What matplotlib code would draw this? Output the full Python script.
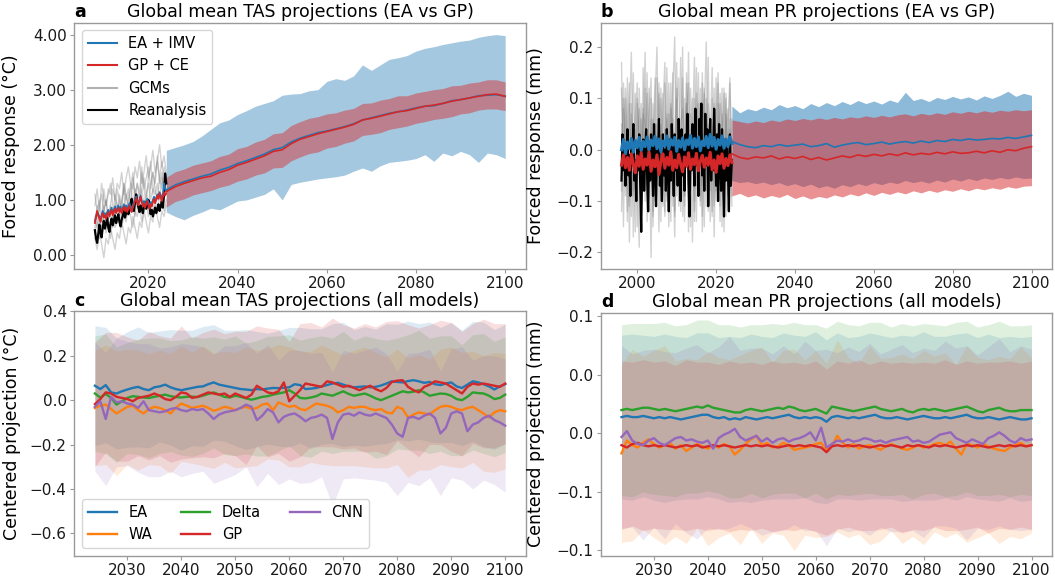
import numpy as np
import matplotlib
matplotlib.use("Agg")
import matplotlib.pyplot as plt
from matplotlib.ticker import FixedLocator, FixedFormatter, FormatStrFormatter

# ---------------- Panel a data (TAS, EA vs GP) ----------------
a_hist_start, a_hist_step = 2008.0, 0.25
a_red_hist = [0.58, 0.68, 0.80, 0.72, 0.66, 0.60, 0.70, 0.76, 0.68, 0.72, 0.66, 0.74,
              0.78, 0.70, 0.76, 0.82, 0.72, 0.78, 0.84, 0.76, 0.80, 0.86, 0.78, 0.84,
              0.76, 0.82, 0.88, 0.80, 0.86, 0.78, 0.84, 0.90, 0.82, 0.78, 0.86, 0.92,
              0.98, 1.04, 0.96, 0.90, 0.98, 1.06, 0.96, 0.88, 0.94, 0.86, 0.92, 0.98,
              0.90, 0.84, 0.92, 0.88, 0.96, 1.02, 0.94, 1.00, 1.08, 1.02, 1.12, 1.04,
              0.98, 1.06, 1.14, 1.08, 1.12]
a_blue_hist = [0.62, 0.70, 0.78, 0.74, 0.70, 0.64, 0.72, 0.80, 0.72, 0.76, 0.70, 0.78,
               0.82, 0.74, 0.80, 0.86, 0.76, 0.82, 0.88, 0.80, 0.84, 0.90, 0.82, 0.88,
               0.80, 0.86, 0.92, 0.84, 0.90, 0.82, 0.88, 0.94, 0.86, 0.82, 0.90, 0.96,
               1.02, 1.06, 0.98, 0.94, 1.00, 1.08, 0.98, 0.92, 0.98, 0.90, 0.96, 1.02,
               0.94, 0.88, 0.96, 0.92, 1.00, 1.06, 0.98, 1.04, 1.10, 1.06, 1.14, 1.08,
               1.04, 1.12, 1.30, 1.20, 1.16]
a_reanalysis = [0.45, 0.30, 0.22, 0.38, 0.55, 0.40, 0.32, 0.50, 0.62, 0.48, 0.56, 0.68,
                0.50, 0.42, 0.58, 0.66, 0.54, 0.62, 0.72, 0.58, 0.66, 0.74, 0.60, 0.52,
                0.64, 0.72, 0.80, 0.68, 0.76, 0.86, 0.74, 0.82, 0.92, 1.02, 0.88, 0.80,
                0.96, 1.10, 0.98, 0.86, 0.78, 0.90, 0.84, 0.76, 0.88, 0.96, 0.84, 0.92,
                1.00, 0.86, 0.74, 0.82, 0.70, 0.78, 0.86, 0.76, 0.84, 0.92, 0.80, 0.88,
                0.98, 0.86, 1.10, 1.48, 1.30]
a_gcm_start, a_gcm_step = 2008.0, 0.5
a_gcms = [
    [0.9, 1.2, 0.8, 1.3, 1.0, 0.9, 1.2, 1.1, 1.4, 1.0, 1.3, 1.2, 1.5, 1.1, 1.4, 1.6, 1.3,
     1.2, 1.6, 1.4, 1.7, 1.3, 1.5, 1.8, 1.4, 1.6, 1.9, 1.5, 1.7, 2.0, 1.6, 1.8, 1.5],
    [0.3, 0.1, 0.4, 0.2, -0.05, 0.3, 0.2, 0.5, 0.3, 0.1, 0.4, 0.3, 0.6, 0.4, 0.2, 0.5, 0.4,
     0.7, 0.5, 0.3, 0.6, 0.5, 0.8, 0.6, 0.4, 0.7, 0.6, 0.9, 0.7, 0.5, 0.8, 0.7, 0.9],
    [0.6, 0.8, 0.5, 0.7, 0.9, 0.6, 0.8, 0.7, 0.5, 0.9, 0.8, 1.0, 0.7, 0.9, 1.1, 0.8, 1.0,
     0.9, 0.7, 1.1, 1.0, 1.2, 0.9, 1.1, 1.3, 1.0, 1.2, 1.1, 1.3, 1.0, 1.4, 1.2, 1.3],
    [0.7, 0.5, 0.9, 1.1, 0.8, 1.0, 0.6, 0.9, 1.2, 1.0, 0.8, 1.1, 0.9, 1.3, 1.0, 1.2, 0.9,
     1.4, 1.1, 1.3, 1.0, 1.5, 1.2, 1.4, 1.6, 1.2, 1.5, 1.3, 1.7, 1.4, 1.2, 1.6, 1.4],
    [0.4, 0.6, 0.3, 0.5, 0.7, 0.4, 0.6, 0.3, 0.7, 0.5, 0.6, 0.8, 0.5, 0.7, 0.6, 0.9, 0.7,
     0.5, 0.8, 0.7, 0.9, 0.6, 0.8, 1.0, 0.7, 0.9, 0.8, 1.0, 0.8, 1.1, 0.9, 0.8, 1.0],
    [0.5, 0.9, 0.7, 0.4, 0.8, 1.0, 0.7, 0.9, 0.6, 1.1, 0.9, 0.7, 1.0, 1.2, 0.8, 1.0, 1.3,
     0.9, 1.2, 1.0, 0.8, 1.2, 1.4, 1.1, 0.9, 1.3, 1.5, 1.2, 1.0, 1.4, 1.7, 1.3, 1.2],
    [1.1, 0.8, 1.0, 0.6, 1.2, 0.9, 1.1, 1.3, 0.9, 0.7, 1.2, 1.0, 0.8, 1.3, 1.1, 0.9, 1.2,
     1.5, 1.0, 1.3, 1.1, 1.6, 1.2, 0.9, 1.4, 1.7, 1.1, 1.4, 1.8, 1.3, 1.5, 1.1, 1.3],
]
fut_start, fut_step = 2024.0, 2.0
a_red_fut = [1.15, 1.24, 1.30, 1.35, 1.40, 1.43, 1.50, 1.55, 1.63, 1.68,
             1.74, 1.80, 1.88, 1.91, 2.02, 2.10, 2.15, 2.20, 2.24, 2.28,
             2.32, 2.37, 2.45, 2.48, 2.52, 2.56, 2.60, 2.62, 2.66, 2.70,
             2.72, 2.75, 2.79, 2.82, 2.85, 2.88, 2.91, 2.92, 2.88]
a_blue_fut = [1.18, 1.27, 1.33, 1.38, 1.43, 1.47, 1.54, 1.59, 1.66, 1.71,
              1.77, 1.83, 1.91, 1.95, 2.05, 2.12, 2.17, 2.22, 2.25, 2.29,
              2.33, 2.38, 2.45, 2.49, 2.53, 2.57, 2.60, 2.63, 2.67, 2.70,
              2.71, 2.75, 2.80, 2.82, 2.85, 2.89, 2.90, 2.91, 2.88]
a_blue_up = [1.90, 1.95, 2.00, 2.06, 2.16, 2.28, 2.40, 2.45, 2.55, 2.62,
             2.70, 2.75, 2.80, 2.90, 2.92, 2.93, 2.98, 3.00, 3.15, 3.20,
             3.17, 3.25, 3.45, 3.35, 3.45, 3.55, 3.58, 3.62, 3.70, 3.75,
             3.78, 3.82, 3.85, 3.88, 3.90, 3.95, 3.98, 4.00, 3.98]
a_blue_lo = [0.78, 0.70, 0.64, 0.72, 0.78, 0.85, 0.82, 0.90, 0.98, 1.00,
             1.05, 1.10, 1.20, 1.00, 1.28, 1.32, 1.35, 1.38, 1.40, 1.42,
             1.45, 1.52, 1.58, 1.52, 1.62, 1.68, 1.70, 1.72, 1.75, 1.82,
             1.70, 1.85, 1.80, 1.88, 1.82, 1.68, 1.85, 1.82, 1.75]
a_red_up = [1.41, 1.51, 1.56, 1.63, 1.67, 1.71, 1.79, 1.83, 1.93, 1.97,
            2.05, 2.10, 2.20, 2.22, 2.35, 2.42, 2.48, 2.51, 2.56, 2.58,
            2.63, 2.66, 2.75, 2.76, 2.81, 2.84, 2.89, 2.89, 2.94, 2.97,
            3.00, 3.02, 3.07, 3.08, 3.12, 3.14, 3.18, 3.18, 3.14]
a_red_lo = [0.87, 0.97, 1.02, 1.09, 1.13, 1.17, 1.23, 1.27, 1.34, 1.38,
            1.45, 1.49, 1.58, 1.59, 1.71, 1.78, 1.84, 1.87, 1.94, 1.97,
            2.03, 2.07, 2.17, 2.19, 2.22, 2.28, 2.31, 2.34, 2.39, 2.42,
            2.46, 2.48, 2.51, 2.56, 2.58, 2.63, 2.65, 2.65, 2.62]

# ---------------- Panel b data (PR, EA vs GP) ----------------
b_hist_start = 1996.0
b_reanalysis = [-0.06, 0.03, -0.04, 0.01, -0.07, -0.02, 0.04, -0.05, -0.01, -0.09, 0.02, -0.03,
                0.05, -0.06, -0.02, -0.10, 0.01, -0.04, 0.03, -0.07, -0.16, -0.03, 0.02, -0.08,
                -0.01, 0.04, -0.05, -0.12, 0.00, -0.06, 0.03, -0.02, -0.09, 0.05, -0.04, -0.11,
                0.01, -0.03, 0.06, -0.07, -0.02, -0.10, 0.03, -0.05, 0.00, -0.08, 0.04, -0.03,
                -0.12, 0.02, -0.06, 0.05, -0.01, -0.09, 0.03, -0.04, 0.01, -0.07, 0.06, -0.02,
                -0.10, 0.04, -0.05, 0.00, -0.08, 0.03, -0.03, 0.07, -0.06, -0.13, 0.02, -0.04,
                0.05, -0.01, -0.07, 0.08, -0.03, 0.02, -0.09, 0.06, -0.02, 0.09, -0.05, 0.01,
                -0.08, 0.07, -0.03, 0.04, -0.11, 0.00, 0.06, -0.06, 0.02, -0.04, 0.08, -0.01,
                -0.07, 0.03, -0.10, 0.05, -0.02, -0.08, 0.04, -0.05, -0.13, 0.02, -0.06, 0.01,
                -0.04, -0.12, 0.03, -0.07, -0.02]
b_gcms = [
    [0.17, -0.05, 0.10, -0.12, 0.06, 0.19, -0.08, 0.04, -0.15, 0.12,
     -0.02, 0.08, -0.10, 0.15, -0.06, 0.03, -0.13, 0.10, 0.20, -0.07,
     0.05, -0.11, 0.13, -0.03, 0.07, -0.14, 0.11, 0.22, -0.09, 0.04,
     -0.12, 0.14, -0.04, 0.09, -0.16, 0.12, 0.02, -0.10, 0.16, -0.05,
     0.08, -0.13, 0.11, -0.02, 0.18, -0.08, 0.05, -0.11, 0.14, -0.04,
     0.09, -0.15, 0.12, 0.03, -0.09, 0.13, -0.03],
    [-0.12, 0.08, -0.03, 0.14, -0.18, 0.02, -0.09, 0.11, -0.05, -0.19,
     0.06, -0.02, 0.12, -0.14, 0.03, -0.21, 0.09, -0.06, 0.05, -0.16,
     0.10, -0.04, -0.13, 0.07, -0.08, 0.13, -0.02, -0.17, 0.06, -0.10,
     0.18, -0.04, -0.14, 0.09, -0.07, 0.04, -0.18, 0.08, -0.03, 0.15,
     -0.11, 0.02, -0.15, 0.10, -0.06, 0.05, -0.13, 0.12, -0.08, 0.03,
     -0.14, 0.07, -0.05, 0.11, -0.12, 0.04, -0.09],
    [0.05, -0.15, 0.12, 0.00, -0.08, 0.09, -0.17, 0.06, 0.13, -0.04,
     -0.11, 0.16, -0.01, -0.09, 0.07, 0.14, -0.12, 0.01, -0.06, 0.11,
     -0.14, 0.08, 0.17, -0.09, 0.02, -0.05, 0.15, -0.13, 0.10, 0.01,
     -0.08, 0.20, -0.11, 0.06, 0.13, -0.15, 0.04, 0.18, -0.07, 0.00,
     0.12, -0.16, 0.07, 0.21, -0.10, -0.03, 0.10, -0.17, 0.06, 0.15,
     -0.08, 0.01, 0.11, -0.13, 0.05, 0.14, -0.06],
    [-0.02, 0.10, -0.09, 0.04, 0.13, -0.13, 0.03, -0.06, 0.09, 0.01,
     -0.12, 0.07, 0.05, -0.07, 0.12, -0.03, 0.06, -0.10, 0.14, 0.00,
     -0.08, 0.11, -0.01, 0.06, -0.15, 0.09, 0.03, -0.06, 0.12, -0.11,
     0.05, 0.08, -0.09, 0.13, 0.01, -0.07, 0.10, -0.12, 0.06, 0.03,
     -0.10, 0.13, 0.00, -0.08, 0.09, 0.04, -0.12, 0.08, 0.01, -0.09,
     0.11, 0.05, -0.11, 0.07, 0.00, -0.07, 0.06],
    [0.12, -0.07, 0.03, -0.14, 0.09, -0.02, 0.15, -0.10, 0.01, 0.08,
     -0.13, 0.04, 0.19, -0.06, -0.01, 0.10, -0.15, 0.05, -0.04, 0.13,
     -0.09, 0.02, -0.12, 0.16, -0.05, 0.08, -0.11, 0.03, 0.17, -0.07,
     0.01, -0.13, 0.10, -0.02, 0.19, -0.08, 0.05, -0.14, 0.11, -0.01,
     -0.09, 0.15, -0.04, 0.07, -0.12, 0.02, 0.16, -0.06, -0.10, 0.09,
     -0.03, 0.12, -0.16, 0.04, 0.08, -0.05, 0.02],
    [-0.08, 0.13, 0.01, -0.06, -0.11, 0.07, 0.00, -0.16, 0.10, -0.03,
     0.09, -0.08, 0.02, 0.11, -0.12, 0.06, -0.02, 0.14, -0.11, 0.03,
     0.12, -0.07, 0.04, -0.10, 0.13, -0.01, 0.06, -0.12, 0.08, 0.14,
     -0.05, 0.02, -0.09, 0.15, -0.13, 0.07, -0.04, 0.10, -0.14, 0.09,
     0.03, -0.07, 0.12, -0.11, 0.05, -0.14, 0.02, 0.09, -0.07, 0.13,
     -0.11, 0.04, -0.08, 0.10, -0.02, 0.06, -0.11],
]
b_blue_hist = [0.000, 0.020, -0.008, 0.015, 0.002, 0.022, -0.005, 0.018, 0.004, 0.024,
               -0.002, 0.016, 0.006, 0.025, 0.000, 0.019, 0.008, 0.026, 0.002, 0.021,
               -0.004, 0.017, 0.007, 0.027, 0.001, 0.020, 0.009, 0.024, -0.003, 0.018,
               0.005, 0.023, 0.000, 0.019, 0.010, 0.028, 0.003, 0.022, 0.006, 0.025,
               -0.002, 0.017, 0.008, 0.026, 0.004, 0.030, 0.007, 0.024, 0.001, 0.020,
               0.009, 0.027, 0.003, 0.021, 0.006, 0.025, 0.012]
b_red_hist = [-0.030, -0.010, -0.035, -0.015, -0.040, -0.008, -0.028, -0.045, -0.012, -0.032,
              -0.006, -0.038, -0.018, -0.030, -0.005, -0.042, -0.020, -0.033, -0.010, -0.048,
              -0.022, -0.008, -0.036, -0.015, -0.030, -0.004, -0.040, -0.020, -0.035, -0.009,
              -0.028, -0.043, -0.014, -0.032, -0.006, -0.038, -0.018, -0.029, -0.007, -0.041,
              -0.022, -0.011, -0.034, -0.016, -0.030, -0.005, -0.039, -0.020, -0.044, -0.012,
              -0.027, -0.008, -0.036, -0.017, -0.031, -0.010, -0.025]
b_blue_fut = [0.016, 0.010, 0.006, 0.004, 0.008, 0.006, 0.010, 0.007, 0.009, 0.011,
              0.006, 0.008, 0.012, 0.005, 0.009, 0.012, 0.014, 0.010, 0.012, 0.015,
              0.011, 0.014, 0.016, 0.013, 0.017, 0.014, 0.018, 0.016, 0.020, 0.018,
              0.021, 0.019, 0.020, 0.022, 0.021, 0.024, 0.022, 0.025, 0.028]
b_red_fut = [-0.008, -0.015, -0.018, -0.014, -0.016, -0.012, -0.018, -0.014, -0.017, -0.013,
             -0.019, -0.015, -0.020, -0.016, -0.012, -0.015, -0.010, -0.013, -0.009, -0.012,
             -0.008, -0.011, -0.006, -0.010, -0.007, -0.009, -0.005, -0.008, -0.004, -0.007,
             -0.006, -0.003, -0.006, -0.002, -0.005, 0.000, -0.002, 0.003, 0.006]
b_blue_up = [0.085, 0.072, 0.080, 0.076, 0.083, 0.078, 0.088, 0.082, 0.086, 0.080,
             0.090, 0.084, 0.092, 0.086, 0.094, 0.088, 0.096, 0.090, 0.095, 0.089,
             0.097, 0.092, 0.112, 0.096, 0.100, 0.094, 0.102, 0.098, 0.104, 0.099,
             0.103, 0.097, 0.105, 0.100, 0.106, 0.114, 0.104, 0.110, 0.106]
b_blue_lo = [-0.060, -0.064, -0.062, -0.066, -0.063, -0.068, -0.064, -0.070, -0.066, -0.072,
             -0.067, -0.074, -0.070, -0.075, -0.068, -0.072, -0.066, -0.070, -0.064, -0.068,
             -0.063, -0.066, -0.060, -0.064, -0.061, -0.065, -0.059, -0.063, -0.057, -0.061,
             -0.056, -0.060, -0.055, -0.058, -0.054, -0.057, -0.053, -0.056, -0.055]
b_red_up = [0.058, 0.055, 0.052, 0.056, 0.053, 0.058, 0.055, 0.060, 0.057, 0.061,
            0.058, 0.062, 0.059, 0.063, 0.060, 0.064, 0.062, 0.066, 0.063, 0.067,
            0.064, 0.068, 0.070, 0.066, 0.071, 0.068, 0.072, 0.069, 0.074, 0.071,
            0.075, 0.072, 0.076, 0.073, 0.077, 0.075, 0.078, 0.076, 0.078]
b_red_lo = [-0.090, -0.085, -0.092, -0.088, -0.094, -0.089, -0.093, -0.087, -0.095, -0.090,
            -0.096, -0.091, -0.094, -0.088, -0.092, -0.086, -0.090, -0.084, -0.089, -0.083,
            -0.087, -0.082, -0.086, -0.080, -0.084, -0.079, -0.083, -0.078, -0.081, -0.076,
            -0.080, -0.075, -0.078, -0.074, -0.077, -0.072, -0.075, -0.071, -0.070]

# ---------------- Panel c data (TAS, all models, centered) ----------------
models = ["EA", "WA", "Delta", "GP", "CNN"]
model_colors = ["#1f77b4", "#ff7f0e", "#2ca02c", "#d62728", "#9467bd"]
c_lines = {
    "EA": [0.065, 0.050, 0.068, 0.035, 0.030, 0.040, 0.048, 0.055, 0.060, 0.050,
           0.045, 0.058, 0.062, 0.070, 0.058, 0.050, 0.045, 0.050, 0.055, 0.060,
           0.062, 0.072, 0.080, 0.070, 0.065, 0.060, 0.055, 0.050, 0.048, 0.045,
           0.050, 0.048, 0.052, 0.055, 0.054, 0.056, 0.058, 0.072, 0.068, 0.050,
           0.052, 0.055, 0.062, 0.068, 0.075, 0.078, 0.070, 0.062, 0.058, 0.060,
           0.062, 0.058, 0.060, 0.066, 0.075, 0.085, 0.082, 0.080, 0.086, 0.090,
           0.085, 0.078, 0.082, 0.072, 0.068, 0.075, 0.080, 0.062, 0.055, 0.070,
           0.085, 0.080, 0.072, 0.062, 0.048, 0.062, 0.072],
    "WA": [-0.035, -0.025, -0.020, -0.040, -0.060, -0.045, -0.030, -0.025, -0.045, -0.060,
           -0.040, -0.030, -0.035, -0.045, -0.060, -0.035, -0.015, -0.025, -0.035, -0.030,
           -0.025, -0.035, -0.048, -0.040, -0.030, -0.035, -0.045, -0.035, -0.030, -0.040,
           -0.035, -0.020, -0.015, -0.045, -0.010, -0.020, -0.030, -0.025, -0.040, -0.045,
           -0.030, -0.015, -0.020, -0.025, -0.035, -0.055, -0.045, -0.030, -0.035, -0.030,
           -0.030, -0.040, -0.045, -0.040, -0.055, -0.060, -0.030, -0.040, -0.078, -0.065,
           -0.055, -0.060, -0.065, -0.045, -0.030, -0.025, -0.030, -0.040, -0.045, -0.035,
           -0.030, -0.045, -0.060, -0.078, -0.055, -0.045, -0.050],
    "Delta": [0.030, 0.012, 0.028, 0.010, -0.020, -0.005, 0.010, 0.018, 0.015, 0.012,
              0.010, 0.015, 0.020, 0.025, 0.018, 0.014, 0.012, 0.015, 0.016, 0.014,
              0.020, 0.028, 0.035, 0.025, 0.015, 0.012, 0.020, 0.015, 0.008, 0.002,
              0.008, 0.015, 0.018, 0.025, 0.030, 0.035, 0.045, 0.030, 0.010, 0.008,
              0.012, 0.018, 0.030, 0.025, 0.020, 0.030, 0.040, 0.028, 0.020, 0.025,
              0.030, 0.020, 0.008, 0.000, 0.010, 0.020, 0.030, 0.040, 0.035, 0.038,
              0.045, 0.035, 0.020, 0.025, 0.030, 0.028, 0.020, 0.005, 0.000, 0.015,
              0.035, 0.032, 0.030, 0.020, 0.005, 0.010, 0.025],
    "GP": [-0.018, 0.005, 0.035, 0.030, 0.015, 0.010, 0.005, -0.005, 0.010, 0.015,
           0.020, 0.030, 0.020, 0.005, 0.000, 0.015, 0.035, 0.030, 0.010, 0.015,
           0.025, 0.035, 0.030, 0.025, 0.030, 0.015, 0.030, 0.020, 0.010, 0.025,
           0.065, 0.050, 0.035, 0.030, 0.040, 0.080, -0.005, 0.020, 0.045, 0.075,
           0.070, 0.065, 0.060, 0.085, 0.080, 0.070, 0.060, 0.065, 0.055, 0.045,
           0.055, 0.065, 0.050, 0.040, 0.055, 0.082, 0.088, 0.090, 0.060, 0.045,
           0.035, 0.060, 0.070, 0.085, 0.080, 0.075, 0.060, 0.045, 0.030, 0.060,
           0.075, 0.070, 0.075, 0.070, 0.065, 0.060, 0.075],
    "CNN": [-0.030, -0.005, -0.085, 0.015, -0.010, -0.005, -0.015, -0.020, -0.035, -0.005,
            -0.045, -0.050, -0.055, -0.050, -0.040, -0.035, -0.045, -0.050, -0.040, -0.045,
            -0.040, -0.060, -0.085, -0.065, -0.055, -0.050, -0.045, -0.035, -0.020, -0.030,
            -0.090, -0.070, -0.040, -0.055, -0.100, -0.075, -0.065, -0.060, -0.075, -0.095,
            -0.080, -0.075, -0.065, -0.080, -0.175, -0.100, -0.065, -0.060, -0.070, -0.055,
            -0.065, -0.070, -0.060, -0.070, -0.080, -0.110, -0.150, -0.165, -0.080, -0.075,
            -0.085, -0.070, -0.060, -0.080, -0.150, -0.125, -0.060, -0.050, -0.060, -0.140,
            -0.110, -0.100, -0.080, -0.070, -0.090, -0.100, -0.115],
}
# half-width of each model's uncertainty band, every 2 years 2024..2100
c_spread = {
    "EA": [0.27, 0.26, 0.25, 0.26, 0.27, 0.26, 0.25, 0.26, 0.27, 0.26,
           0.27, 0.26, 0.25, 0.26, 0.27, 0.26, 0.25, 0.26, 0.27, 0.26,
           0.27, 0.26, 0.27, 0.28, 0.26, 0.27, 0.26, 0.27, 0.26, 0.27,
           0.26, 0.27, 0.26, 0.27, 0.26, 0.27, 0.28, 0.27, 0.27],
    "WA": [0.26, 0.27, 0.28, 0.26, 0.27, 0.25, 0.26, 0.27, 0.26, 0.25,
           0.27, 0.26, 0.25, 0.26, 0.27, 0.26, 0.25, 0.26, 0.27, 0.26,
           0.25, 0.27, 0.26, 0.25, 0.26, 0.27, 0.26, 0.25, 0.26, 0.27,
           0.26, 0.25, 0.26, 0.27, 0.26, 0.25, 0.26, 0.27, 0.26],
    "Delta": [0.26, 0.27, 0.26, 0.25, 0.26, 0.27, 0.26, 0.25, 0.26, 0.27,
              0.26, 0.25, 0.26, 0.27, 0.25, 0.26, 0.27, 0.26, 0.25, 0.26,
              0.27, 0.26, 0.26, 0.27, 0.25, 0.26, 0.27, 0.26, 0.25, 0.26,
              0.27, 0.26, 0.26, 0.27, 0.25, 0.26, 0.27, 0.26, 0.26],
    "GP": [0.28, 0.27, 0.29, 0.28, 0.26, 0.29, 0.27, 0.28, 0.30, 0.27,
           0.28, 0.29, 0.27, 0.28, 0.30, 0.27, 0.29, 0.28, 0.27, 0.30,
           0.28, 0.27, 0.29, 0.28, 0.27, 0.29, 0.28, 0.30, 0.27, 0.28,
           0.29, 0.27, 0.28, 0.29, 0.28, 0.27, 0.29, 0.28, 0.27],
    "CNN": [0.29, 0.30, 0.29, 0.28, 0.29, 0.30, 0.29, 0.28, 0.30, 0.29,
            0.28, 0.29, 0.30, 0.29, 0.28, 0.30, 0.29, 0.28, 0.29, 0.30,
            0.29, 0.28, 0.30, 0.29, 0.28, 0.29, 0.30, 0.29, 0.28, 0.29,
            0.30, 0.29, 0.28, 0.29, 0.30, 0.29, 0.28, 0.29, 0.30],
}

# ---------------- Panel d data (PR, all models, centered) ----------------
d_lines = {
    "EA": [0.014, 0.015, 0.014, 0.014, 0.015, 0.014, 0.013, 0.014, 0.013, 0.014,
           0.013, 0.012, 0.013, 0.014, 0.015, 0.016, 0.016, 0.014, 0.013, 0.014,
           0.012, 0.013, 0.012, 0.014, 0.013, 0.012, 0.013, 0.014, 0.013, 0.014,
           0.015, 0.016, 0.014, 0.013, 0.014, 0.013, 0.014, 0.013, 0.010, 0.014,
           0.015, 0.014, 0.013, 0.014, 0.013, 0.014, 0.015, 0.016, 0.014, 0.013,
           0.013, 0.014, 0.013, 0.012, 0.013, 0.014, 0.015, 0.014, 0.013, 0.013,
           0.014, 0.013, 0.014, 0.015, 0.016, 0.014, 0.013, 0.013, 0.014, 0.013,
           0.012, 0.013, 0.014, 0.013, 0.012, 0.012, 0.013],
    "WA": [-0.017, -0.006, -0.010, -0.012, -0.008, -0.005, -0.009, -0.012, -0.010, -0.008,
           -0.013, -0.010, -0.015, -0.012, -0.009, -0.011, -0.013, -0.010, -0.012, -0.009,
           -0.011, -0.018, -0.014, -0.009, -0.005, -0.002, -0.010, -0.008, -0.012, -0.011,
           -0.008, -0.010, -0.014, -0.013, -0.012, -0.011, -0.009, -0.008, -0.014, -0.011,
           -0.002, -0.008, -0.012, -0.009, -0.013, -0.011, -0.010, -0.012, -0.014, -0.011,
           -0.009, -0.011, -0.013, -0.014, -0.012, -0.010, -0.012, -0.011, -0.009, -0.008,
           -0.010, -0.007, -0.013, -0.018, -0.009, -0.010, -0.012, -0.009, -0.011, -0.013,
           -0.014, -0.015, -0.012, -0.010, -0.008, -0.011, -0.010],
    "Delta": [0.020, 0.021, 0.020, 0.021, 0.022, 0.022, 0.021, 0.020, 0.021, 0.020,
              0.019, 0.020, 0.021, 0.022, 0.023, 0.022, 0.024, 0.022, 0.021, 0.020,
              0.019, 0.018, 0.018, 0.020, 0.021, 0.020, 0.019, 0.020, 0.021, 0.022,
              0.021, 0.023, 0.022, 0.020, 0.019, 0.020, 0.021, 0.019, 0.017, 0.023,
              0.022, 0.021, 0.020, 0.019, 0.020, 0.021, 0.022, 0.023, 0.021, 0.020,
              0.019, 0.020, 0.021, 0.019, 0.018, 0.020, 0.021, 0.020, 0.021, 0.020,
              0.019, 0.020, 0.021, 0.022, 0.023, 0.021, 0.019, 0.018, 0.020, 0.021,
              0.022, 0.020, 0.019, 0.019, 0.020, 0.020, 0.020],
    "GP": [-0.010, -0.012, -0.009, -0.008, -0.010, -0.011, -0.010, -0.011, -0.010, -0.011,
           -0.012, -0.011, -0.010, -0.011, -0.010, -0.012, -0.011, -0.010, -0.011, -0.010,
           -0.011, -0.012, -0.011, -0.010, -0.011, -0.010, -0.011, -0.010, -0.011, -0.012,
           -0.011, -0.010, -0.011, -0.010, -0.011, -0.010, -0.011, -0.012, -0.016, -0.011,
           -0.010, -0.011, -0.010, -0.011, -0.010, -0.011, -0.012, -0.011, -0.010, -0.011,
           -0.010, -0.011, -0.012, -0.010, -0.011, -0.010, -0.011, -0.012, -0.010, -0.011,
           -0.010, -0.011, -0.012, -0.011, -0.010, -0.011, -0.010, -0.011, -0.012, -0.011,
           -0.010, -0.011, -0.010, -0.011, -0.010, -0.011, -0.010],
    "CNN": [-0.003, 0.002, -0.006, -0.009, -0.010, -0.006, -0.004, -0.008, -0.010, -0.007,
            -0.004, -0.003, -0.006, -0.005, -0.007, -0.008, -0.006, -0.013, -0.004, -0.001,
            0.001, 0.004, -0.003, -0.006, -0.004, -0.002, -0.007, -0.004, -0.008, -0.005,
            -0.004, -0.007, -0.005, -0.004, -0.002, 0.001, -0.006, 0.005, -0.012, -0.009,
            -0.006, -0.007, -0.005, -0.007, -0.006, -0.004, -0.005, -0.007, -0.006, -0.008,
            -0.006, -0.005, -0.004, -0.003, -0.007, -0.006, -0.008, -0.007, -0.004, -0.001,
            0.000, 0.001, -0.004, -0.006, -0.008, -0.005, -0.007, -0.009, -0.004, -0.002,
            0.001, -0.002, -0.006, -0.008, -0.004, -0.006, -0.005],
}
d_spread = {
    "EA": [0.070, 0.071, 0.069, 0.070, 0.072, 0.070, 0.069, 0.071, 0.070, 0.069,
           0.071, 0.070, 0.072, 0.070, 0.069, 0.071, 0.070, 0.069, 0.073, 0.070,
           0.071, 0.069, 0.070, 0.071, 0.070, 0.069, 0.071, 0.070, 0.072, 0.070,
           0.069, 0.071, 0.070, 0.069, 0.071, 0.070, 0.069, 0.070, 0.070],
    "WA": [0.076, 0.082, 0.074, 0.080, 0.085, 0.075, 0.079, 0.072, 0.083, 0.077,
           0.074, 0.081, 0.076, 0.084, 0.073, 0.079, 0.086, 0.075, 0.080, 0.074,
           0.082, 0.077, 0.073, 0.085, 0.078, 0.074, 0.081, 0.076, 0.083, 0.075,
           0.079, 0.072, 0.084, 0.077, 0.074, 0.080, 0.076, 0.082, 0.075],
    "Delta": [0.073, 0.074, 0.072, 0.073, 0.074, 0.073, 0.072, 0.074, 0.073, 0.072,
              0.074, 0.073, 0.072, 0.074, 0.073, 0.072, 0.073, 0.074, 0.072, 0.073,
              0.074, 0.073, 0.072, 0.073, 0.074, 0.072, 0.073, 0.074, 0.073, 0.072,
              0.073, 0.074, 0.073, 0.072, 0.073, 0.074, 0.073, 0.072, 0.073],
    "GP": [0.072, 0.070, 0.073, 0.071, 0.072, 0.070, 0.073, 0.071, 0.072, 0.070,
           0.073, 0.071, 0.072, 0.070, 0.073, 0.071, 0.072, 0.070, 0.073, 0.071,
           0.072, 0.070, 0.073, 0.071, 0.072, 0.070, 0.073, 0.071, 0.072, 0.070,
           0.073, 0.071, 0.072, 0.070, 0.073, 0.071, 0.072, 0.070, 0.072],
    "CNN": [0.078, 0.074, 0.081, 0.076, 0.080, 0.073, 0.079, 0.083, 0.075, 0.078,
            0.082, 0.074, 0.077, 0.080, 0.076, 0.079, 0.073, 0.081, 0.077, 0.084,
            0.075, 0.079, 0.076, 0.082, 0.074, 0.078, 0.080, 0.076, 0.081, 0.075,
            0.079, 0.077, 0.083, 0.074, 0.078, 0.080, 0.076, 0.079, 0.077],
}
proj_start = 2024.0

# ---------------- helpers ----------------
def years(start, step, vals):
    return start + step * np.arange(len(vals))

plt.rcParams["font.family"] = ["DejaVu Sans"]
SPINE = "#9a9a9a"
TICK_FS = 11
LAB_FS = 12.5
BLUE, RED = "#1f77b4", "#d62728"

def style(ax):
    for s in ax.spines.values():
        s.set_color(SPINE)
        s.set_linewidth(1.0)
    ax.tick_params(axis="both", colors=SPINE, labelcolor="#1a1a1a",
                   labelsize=TICK_FS, length=3.0, width=0.8, pad=2.5)

def titles(ax, letter, text):
    ax.set_title(text, fontsize=LAB_FS, pad=4)
    ax.set_title(letter, loc="left", fontsize=LAB_FS, fontweight="bold", pad=4)

fig = plt.figure(figsize=(10.55, 5.79), dpi=100)
W, H = 1055.0, 579.0
ax_a = fig.add_axes([74.4 / W, (H - 268.8) / H, 451.3 / W, 245.8 / H])
ax_b = fig.add_axes([601.0 / W, (H - 268.8) / H, 451.0 / W, 245.8 / H])
ax_c = fig.add_axes([74.4 / W, (H - 555.5) / H, 451.3 / W, 244.1 / H])
ax_d = fig.add_axes([601.0 / W, (H - 555.5) / H, 451.0 / W, 243.0 / H])

# ---------------- Panel a ----------------
ax = ax_a
xf = years(fut_start, fut_step, a_blue_up)
ax.fill_between(xf, a_blue_lo, a_blue_up, color=BLUE, alpha=0.4, lw=0)
ax.fill_between(xf, a_red_lo, a_red_up, color=RED, alpha=0.45, lw=0)
for g in a_gcms:
    ax.plot(years(a_gcm_start, a_gcm_step, g), g, color="gray", alpha=0.35, lw=1.0)
ax.plot(years(a_hist_start, a_hist_step, a_reanalysis), a_reanalysis, color="black", lw=1.6)
ax.plot(years(a_hist_start, a_hist_step, a_blue_hist), a_blue_hist, color=BLUE, lw=1.3)
ax.plot(years(a_hist_start, a_hist_step, a_red_hist), a_red_hist, color=RED, lw=1.3)
ax.plot(years(fut_start, fut_step, a_blue_fut), a_blue_fut, color=BLUE, lw=1.2)
ax.plot(years(fut_start, fut_step, a_red_fut), a_red_fut, color=RED, lw=1.2)
ax.set_xlim(2003.4, 2104.6)
ax.set_ylim(-0.25, 4.21)
ax.set_xticks([2020, 2040, 2060, 2080, 2100])
ax.set_yticks([0, 1, 2, 3, 4])
ax.yaxis.set_major_formatter(FormatStrFormatter("%.2f"))
ax.set_ylabel("Forced response (°C)", fontsize=LAB_FS)
ax.yaxis.set_label_coords(-0.120, 0.5)
titles(ax, "a", "Global mean TAS projections (EA vs GP)")
handles = [plt.Line2D([], [], color=BLUE, lw=1.5), plt.Line2D([], [], color=RED, lw=1.5),
           plt.Line2D([], [], color="gray", alpha=0.6, lw=1.5), plt.Line2D([], [], color="black", lw=1.5)]
ax.legend(handles, ["EA + IMV", "GP + CE", "GCMs", "Reanalysis"], loc="upper left", fontsize=10.5)
style(ax)

# ---------------- Panel b ----------------
ax = ax_b
xf = years(fut_start, fut_step, b_blue_up)
ax.fill_between(xf, b_blue_lo, b_blue_up, color=BLUE, alpha=0.5, lw=0)
ax.fill_between(xf, b_red_lo, b_red_up, color=RED, alpha=0.5, lw=0)
for g in b_gcms:
    ax.plot(years(b_hist_start, 0.5, g), g, color="gray", alpha=0.35, lw=1.0)
ax.plot(years(b_hist_start, 0.25, b_reanalysis), b_reanalysis, color="black", lw=1.6)
ax.plot(years(b_hist_start, 0.5, b_blue_hist), b_blue_hist, color=BLUE, lw=2.2)
ax.plot(years(b_hist_start, 0.5, b_red_hist), b_red_hist, color=RED, lw=2.2)
ax.plot(xf, b_blue_fut, color=BLUE, lw=1.2)
ax.plot(xf, b_red_fut, color=RED, lw=1.2)
ax.set_xlim(1990.8, 2105.2)
ax.set_ylim(-0.232, 0.247)
ax.set_xticks([2000, 2020, 2040, 2060, 2080, 2100])
ax.set_yticks([-0.2, -0.1, 0.0, 0.1, 0.2])
ax.set_ylabel("Forced response (mm)", fontsize=LAB_FS)
ax.yaxis.set_label_coords(-0.125, 0.5)
titles(ax, "b", "Global mean PR projections (EA vs GP)")
style(ax)

# ---------------- Panels c and d ----------------
def all_models(ax, lines, spread):
    for m, col in zip(models, model_colors):
        vals = np.array(lines[m])
        xs = years(proj_start, 1.0, vals)
        sp = np.array(spread[m])
        ax.fill_between(xs[::2], vals[::2] - sp, vals[::2] + sp, color=col, alpha=0.15, lw=0)
    for m, col in zip(models, model_colors):
        vals = lines[m]
        ax.plot(years(proj_start, 1.0, vals), vals, color=col, lw=1.7, label=m)
    ax.set_xlim(2020.2, 2103.8)
    ax.set_xticks([2030, 2040, 2050, 2060, 2070, 2080, 2090, 2100])

ax = ax_c
all_models(ax, c_lines, c_spread)
ax.set_ylim(-0.7, 0.4)
ax.set_yticks([-0.6, -0.4, -0.2, 0.0, 0.2, 0.4])
ax.set_ylabel("Centered projection (°C)", fontsize=LAB_FS)
ax.yaxis.set_label_coords(-0.118, 0.5)
titles(ax, "c", "Global mean TAS projections (all models)")
ax.legend(loc="lower left", ncol=3, fontsize=10.5)
style(ax)

ax = ax_d
all_models(ax, d_lines, d_spread)
ax.set_ylim(-0.1043, 0.1034)
ax.yaxis.set_major_locator(FixedLocator([-0.1, -0.05, 0.0, 0.05, 0.1]))
ax.yaxis.set_major_formatter(FixedFormatter(["\u22120.1", "\u22120.1", "0.0", "0.0", "0.1"]))
ax.set_ylabel("Centered projection (mm)", fontsize=LAB_FS)
ax.yaxis.set_label_coords(-0.125, 0.5)
titles(ax, "d", "Global mean PR projections (all models)")
style(ax)

fig.savefig("out.png", dpi=100)
